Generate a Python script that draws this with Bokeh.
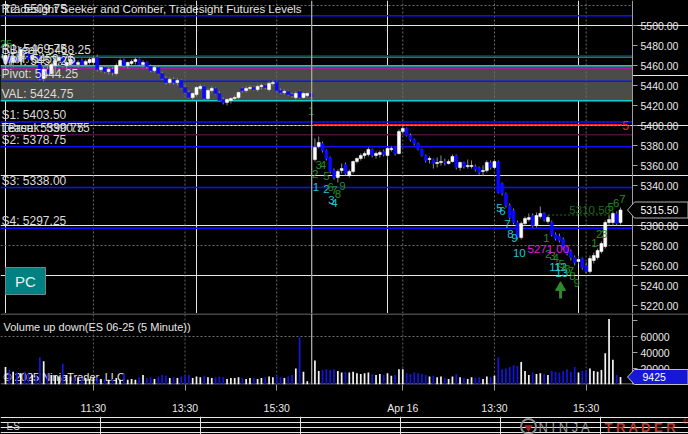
from bokeh.plotting import figure
from bokeh.models import Range1d, FixedTicker, NumeralTickFormatter, Span, LinearAxis
from bokeh.layouts import column
from bokeh.embed import file_html
from bokeh.resources import INLINE
from bokeh.core.properties import value

FONT = "Liberation Sans"

# ---------------- data: 5-minute ES 06-25 bars (Apr 15 + Apr 16) ----------------
opens = [
    5462, 5470, 5463, 5468, 5464, 5477, 5471, 5466, 5470, 5469,
    5447, 5456, 5452, 5460, 5465, 5470, 5460, 5462, 5466, 5461,
    5465, 5461, 5463, 5463, 5468, 5456, 5458, 5454, 5456, 5452,
    5460, 5465, 5460, 5462, 5464, 5466, 5461, 5463, 5459, 5455,
    5458, 5452, 5447, 5443, 5446, 5443, 5445, 5438, 5433, 5428,
    5431, 5437, 5439, 5427, 5435, 5437, 5432, 5426, 5423, 5425,
    5427, 5428, 5437, 5435, 5437, 5438, 5436, 5439, 5440, 5436,
    5442, 5443, 5435, 5433, 5434, 5431, 5428, 5434, 5428, 5430,
    5432,
    5366, 5379, 5382, 5375, 5368, 5355, 5348, 5355, 5361, 5350,
    5354, 5364, 5367, 5370, 5371, 5376, 5370, 5371, 5374, 5370,
    5376, 5377, 5372, 5394, 5397, 5390, 5386, 5382, 5376, 5370,
    5366, 5366, 5362, 5363, 5364, 5362, 5364, 5370, 5358, 5363,
    5359, 5359, 5359, 5358, 5354, 5355, 5363, 5358, 5364, 5342,
    5332, 5320, 5315, 5303, 5288, 5302, 5306, 5310, 5300, 5309,
    5312, 5304, 5303, 5291, 5289, 5286, 5278, 5274, 5268, 5264,
    5267, 5260, 5254, 5265, 5268, 5274, 5279, 5303, 5303, 5312,
    5303,
]
highs = [
    5478, 5474, 5471, 5475, 5478, 5482, 5474, 5472, 5473, 5471,
    5459, 5460, 5463, 5467, 5470, 5472, 5465, 5468, 5468, 5465,
    5467, 5466, 5468, 5470, 5471, 5460, 5460, 5458, 5458, 5462,
    5467, 5467, 5464, 5466, 5468, 5467, 5465, 5464, 5461, 5460,
    5459, 5454, 5449, 5448, 5448, 5447, 5446, 5440, 5435, 5433,
    5439, 5441, 5440, 5437, 5439, 5438, 5434, 5428, 5427, 5428,
    5430, 5434, 5438, 5439, 5440, 5439, 5441, 5442, 5441, 5444,
    5445, 5444, 5437, 5436, 5435, 5433, 5434, 5435, 5433, 5433,
    5433,
    5387, 5389, 5384, 5376, 5369, 5357, 5356, 5362, 5363, 5356,
    5365, 5368, 5372, 5374, 5378, 5377, 5374, 5375, 5376, 5378,
    5379, 5378, 5396, 5401, 5398, 5392, 5387, 5383, 5377, 5371,
    5369, 5367, 5368, 5370, 5367, 5366, 5371, 5371, 5364, 5364,
    5366, 5365, 5361, 5359, 5360, 5365, 5365, 5366, 5365, 5343,
    5333, 5322, 5317, 5305, 5304, 5309, 5312, 5312, 5313, 5319,
    5313, 5310, 5305, 5293, 5292, 5288, 5280, 5276, 5270, 5270,
    5268, 5263, 5270, 5273, 5277, 5284, 5305, 5310, 5314, 5314,
    5318,
]
lows = [
    5450, 5460, 5458, 5462, 5461, 5470, 5463, 5462, 5463, 5445,
    5444, 5450, 5450, 5452, 5461, 5458, 5456, 5460, 5459, 5458,
    5460, 5459, 5461, 5461, 5454, 5453, 5452, 5451, 5450, 5450,
    5459, 5458, 5457, 5460, 5461, 5460, 5458, 5457, 5453, 5453,
    5451, 5446, 5441, 5441, 5441, 5440, 5437, 5432, 5427, 5426,
    5429, 5435, 5425, 5425, 5433, 5431, 5424, 5421, 5420, 5422,
    5424, 5426, 5433, 5433, 5435, 5435, 5434, 5436, 5436, 5434,
    5440, 5434, 5432, 5431, 5430, 5428, 5426, 5427, 5427, 5428,
    5427,
    5364, 5377, 5373, 5365, 5352, 5346, 5343, 5352, 5350, 5348,
    5352, 5362, 5365, 5367, 5369, 5368, 5367, 5368, 5369, 5366,
    5374, 5370, 5371, 5392, 5389, 5384, 5380, 5375, 5369, 5363,
    5362, 5357, 5358, 5360, 5360, 5361, 5363, 5356, 5355, 5357,
    5357, 5357, 5354, 5351, 5350, 5353, 5356, 5357, 5332, 5330,
    5318, 5306, 5301, 5286, 5286, 5300, 5304, 5298, 5298, 5307,
    5304, 5302, 5289, 5285, 5283, 5276, 5270, 5265, 5260, 5262,
    5256, 5252, 5252, 5262, 5266, 5272, 5277, 5300, 5300, 5300,
    5301,
]
closes = [
    5470, 5463, 5468, 5464, 5476, 5472, 5466, 5470, 5468, 5447,
    5456, 5452, 5461, 5465, 5468, 5460, 5463, 5466, 5461, 5463,
    5461, 5464, 5466, 5467, 5456, 5458, 5454, 5456, 5453, 5460,
    5465, 5460, 5463, 5464, 5466, 5461, 5463, 5459, 5455, 5458,
    5452, 5447, 5443, 5446, 5443, 5445, 5438, 5433, 5428, 5432,
    5438, 5439, 5427, 5435, 5437, 5432, 5425, 5423, 5426, 5427,
    5428, 5433, 5435, 5437, 5438, 5436, 5439, 5440, 5438, 5442,
    5443, 5435, 5433, 5434, 5431, 5430, 5432, 5428, 5432, 5432,
    5429,
    5378, 5383, 5375, 5367, 5354, 5348, 5354, 5357, 5352, 5354,
    5364, 5367, 5370, 5372, 5376, 5370, 5372, 5373, 5371, 5377,
    5377, 5372, 5394, 5397, 5390, 5386, 5382, 5376, 5370, 5365,
    5367, 5362, 5363, 5364, 5363, 5364, 5369, 5358, 5363, 5359,
    5360, 5360, 5356, 5353, 5355, 5363, 5358, 5364, 5333, 5332,
    5320, 5308, 5303, 5288, 5302, 5307, 5308, 5300, 5310, 5312,
    5306, 5308, 5291, 5287, 5285, 5278, 5272, 5268, 5263, 5266,
    5258, 5254, 5267, 5270, 5275, 5282, 5303, 5306, 5312, 5302,
    5315.5,
]
volumes = [
    22000, 18000, 16000, 15000, 14000, 16000, 13000, 12000, 12000, 34000,
    29000, 14000, 12000, 11000, 10000, 26000, 12000, 10000, 9000, 9000,
    8000, 8000, 7000, 8000, 9000, 7000, 7000, 6000, 7000, 8000,
    6000, 13000, 6000, 7000, 6000, 9000, 12000, 8000, 9000, 7000,
    10000, 12000, 11000, 8000, 9000, 8000, 10000, 11000, 12000, 8000,
    10000, 9000, 11000, 9000, 8000, 9000, 10000, 9000, 7000, 8000,
    8000, 9000, 8000, 7000, 8000, 8000, 7000, 8000, 9000, 10000,
    9000, 11000, 9000, 8000, 10000, 12000, 20000, 59000, 16000, 4000,
    3000,
    30000, 17000, 18000, 19000, 18000, 19000, 17000, 15000, 16000, 15000,
    16000, 14000, 13000, 14000, 15000, 13000, 12000, 13000, 12000, 14000,
    11000, 12000, 19000, 19000, 14000, 13000, 15000, 14000, 13000, 12000,
    10000, 11000, 9000, 10000, 8000, 7000, 10000, 13000, 9000, 8000,
    7000, 9000, 8000, 9000, 7000, 10000, 9000, 11000, 34000, 19000,
    20000, 22000, 24000, 23000, 28000, 17000, 12000, 15000, 13000, 14000,
    13000, 12000, 17000, 16000, 15000, 17000, 19000, 16000, 22000, 15000,
    17000, 18000, 20000, 17000, 16000, 18000, 39000, 82000, 31000, 12000,
    9425,
]
assert len(opens) == len(highs) == len(lows) == len(closes) == len(volumes)

# time axis: bar index of labelled bars
tick_bars = [23, 47, 71, 104, 128, 152]
tick_labels = ["11:30", "13:30", "15:30", "Apr 16", "13:30", "15:30"]
session_break = 80.15

# price / volume axes
price_ticks = [5220, 5240, 5260, 5280, 5300, 5320, 5340, 5360, 5380, 5400,
               5420, 5440, 5460, 5480, 5500]
price_grid = [5280, 5400, 5520]
vol_ticks = [0, 20000, 40000, 60000, 80000]
vol_grid = [60000]

# Tradesight futures levels
level_prices = [5509.75, 5469.75, 5468.25, 5459.75, 5457.25, 5444.25, 5424.75,
                5403.50, 5390.75, 5378.75, 5338.00, 5297.25]
level_colors = ["#1010ff", "#1010ff", "#1a8c1a", "#10c8c8", "#a0209a", "#1010ff", "#10d0d0",
                "#1010ff", "#4a0f44", "#1010ff", "#1010ff", "#1010ff"]
label_texts = ["R2: 5509.75", "R1: 5469.75", "SBreak: 5468.25", "VAH: 5459.75", "VPT: 5457.25",
               "Pivot: 5444.25", "VAL: 5424.75", "S1: 5403.50", "LBreak: 5390.75",
               "Tease: 5390.75", "S2: 5378.75", "S3: 5338.00", "S4: 5297.25"]
label_prices = [5509.75, 5469.75, 5468.25, 5459.75, 5457.25, 5444.25, 5424.75,
                5403.50, 5390.75, 5390.75, 5378.75, 5338.00, 5297.25]
VAH, VAL = 5459.75, 5424.75
red_level, red_from, red_to = 5400.75, 80.6, 161.4
tgt_level, tgt_from, tgt_to = 5310.50, 141.0, 158.5
stop_text, stop_pos = "5271.00", (142.1, 5277)

# Seeker (cyan) and Comber (green) counts: (label, bar, price)
seeker_txt = ["1", "2", "3", "4", "5", "6", "7", "8", "9", "10", "11", "12", "13"]
seeker_x = [81.3, 84.0, 85.3, 86.1, 129.3, 130.1, 131.4, 132.2, 133.2, 134.5, 143.9, 145.3, 145.6]
seeker_y = [5339, 5337, 5326, 5323, 5318, 5315, 5302, 5292, 5288, 5273, 5259, 5259, 5253]
comber_txt = ["25", "1", "2", "3", "4", "5", "6", "7", "8", "9",
              "1", "2", "3", "4", "5", "6", "7", "8", "9",
              "1", "2", "3", "5", "6", "7"]
comber_x = [0.15, 80.0, 81.1, 82.0, 83.1, 84.0, 85.1, 86.1, 87.0, 88.2,
            141.6, 142.1, 143.2, 144.0, 145.6, 147.1, 148.0, 148.4, 149.5,
            154.2, 155.4, 156.7, 158.4, 159.9, 161.5]
comber_y = [5482, 5415, 5352, 5361, 5361, 5350, 5339, 5336, 5332, 5340,
            5288, 5272, 5270, 5268, 5262, 5257, 5255, 5250, 5243,
            5283, 5292, 5292, 5319, 5323, 5327]
arrow_x, arrow_y = [145.3], [5238]
count5_pos = (162.3, 5400)

# ---------------- geometry helpers (pixel -> data) ----------------
X0, BW = 5.0, 3.82
P_TOP = 5525.0
V_BASE, V_PX = 384.0, 1250.0


def px2x(px):
    return (px - X0) / BW


def py2p(py):
    return P_TOP - py


def py2v(py):
    return (V_BASE - py) * V_PX


AX = px2x(632)          # position of the right price/volume axis
idx = list(range(len(opens)))
up = [c >= o for o, c in zip(opens, closes)]
body_col = ["#ffffff" if u else "#0a0aff" for u in up]
vol_col = ["#f2f2f2" if u else "#1414e0" for u in up]
body_top = [max(o, c) for o, c in zip(opens, closes)]
body_bot = [min(o, c) for o, c in zip(opens, closes)]

xr = Range1d(px2x(0), px2x(688))
yr = Range1d(py2p(313), py2p(0))

common = dict(output_backend="svg", toolbar_location=None, background_fill_color="black",
              border_fill_color="black", outline_line_color=None)


def style_axis(ax, tick_out, standoff):
    ax.axis_line_color = "#a0a0a0"
    ax.major_tick_line_color = "#a0a0a0"
    ax.major_tick_in = 0
    ax.major_tick_out = tick_out
    ax.minor_tick_line_color = None
    ax.major_label_standoff = standoff
    ax.major_label_text_font = FONT
    ax.major_label_text_font_size = "10.5px"
    ax.major_label_text_color = "#e8e8e8"


# ---------------- price panel ----------------
p = figure(frame_width=688, frame_height=313, x_range=xr, y_range=yr,
           x_axis_location=None, y_axis_location=None, min_border=0, **common)

p.quad(left=[xr.start], right=[AX], bottom=[VAL], top=[VAH], fill_color="#4b4b47", line_color=None)
p.segment(x0=tick_bars, x1=tick_bars, y0=[yr.start] * len(tick_bars), y1=[yr.end] * len(tick_bars),
          line_color="#6e6e6e", line_dash="2 2", line_width=1)
p.segment(x0=[xr.start] * len(price_grid), x1=[AX] * len(price_grid), y0=price_grid, y1=price_grid,
          line_color="#6e6e6e", line_dash="2 2", line_width=1)
p.segment(x0=[xr.start] * len(level_prices), x1=[AX] * len(level_prices),
          y0=level_prices, y1=level_prices, line_color=level_colors, line_width=1.6)
p.segment(x0=[red_from], x1=[red_to], y0=[red_level], y1=[red_level], line_color="#ff1a1a", line_width=1.6)
p.segment(x0=[tgt_from], x1=[tgt_to], y0=[tgt_level], y1=[tgt_level], line_color="#1f6f1f",
          line_width=1.2, line_dash="2 2")
p.add_layout(Span(location=session_break, dimension="height", line_color="#a8a8a8", line_width=1.3))

# candles
p.segment(x0=idx, x1=idx, y0=lows, y1=highs, line_color="#8c8c8c", line_width=1)
p.vbar(x=idx, width=0.8, top=body_top, bottom=body_bot, fill_color=body_col, line_color=body_col, line_width=0.5)

# level labels and title
p.text(x=[px2x(1)] * len(label_texts), y=label_prices, text=label_texts, text_font=value(FONT),
       text_font_size="12px", text_color="#dadada", text_align="left", text_baseline="bottom")
p.text(x=[px2x(3)], y=[py2p(2)], text=["Tradesight Seeker and Comber, Tradesight Futures Levels"],
       text_font=value(FONT), text_font_size="11.5px", text_color="#e4e4e4",
       text_align="left", text_baseline="top")

# counts
p.text(x=seeker_x, y=seeker_y, text=seeker_txt, text_font=value(FONT), text_font_size="11.5px",
       text_color="#1ec8d6", text_align="center", text_baseline="middle")
p.text(x=comber_x, y=comber_y, text=comber_txt, text_font=value(FONT), text_font_size="11.5px",
       text_color="#238c23", text_align="center", text_baseline="middle")
p.text(x=[(tgt_from + tgt_to) / 2 + 3.3], y=[tgt_level + 5.5], text=["5310.50"], text_font=value(FONT),
       text_font_size="11.5px", text_color="#1d6e1d", text_align="center", text_baseline="middle")
p.text(x=[stop_pos[0]], y=[stop_pos[1]], text=[stop_text], text_font=value(FONT), text_font_size="11.5px",
       text_color="#e01ee0", text_align="center", text_baseline="middle")
p.text(x=[count5_pos[0]], y=[count5_pos[1]], text=["5"], text_font=value(FONT), text_font_size="12px",
       text_color="#ff2020", text_align="center", text_baseline="middle")
p.segment(x0=arrow_x, x1=arrow_x, y0=[arrow_y[0] - 11], y1=arrow_y, line_color="#2e8b2e", line_width=3)
p.scatter(x=arrow_x, y=arrow_y, marker="triangle", size=10, fill_color="#2e8b2e", line_color="#2e8b2e")

# PC button
p.quad(left=[px2x(5)], right=[px2x(45)], top=[py2p(267)], bottom=[py2p(294)],
       fill_color="#008080", line_color="#6a8a8a", line_width=1)
p.text(x=[px2x(25)], y=[py2p(280.5)], text=["PC"], text_font=value(FONT), text_font_size="15px",
       text_color="#f0f0f0", text_align="center", text_baseline="middle")

# right price axis, fixed at the panel's right edge
ya = LinearAxis(fixed_location=AX, ticker=FixedTicker(ticks=price_ticks, minor_ticks=[]),
                formatter=NumeralTickFormatter(format="0.00"))
style_axis(ya, 5, 3)
p.add_layout(ya, "right")

# last price marker (drawn over the axis labels)
last = closes[-1]
p.patch(x=[px2x(627), px2x(634), px2x(687.5), px2x(687.5), px2x(634)],
        y=[last, last + 8, last + 8, last - 8, last - 8],
        fill_color="#000000", line_color="#b0b0b0", line_width=1, level="overlay")
p.text(x=[px2x(640)], y=[last], text=["%.2f" % last], text_font=value(FONT), text_font_size="10.5px",
       text_color="#ffffff", text_baseline="middle", text_align="left", level="overlay")

# ---------------- volume panel ----------------
v = figure(frame_width=688, frame_height=71, x_range=xr, y_range=Range1d(0, py2v(313)),
           x_axis_location="below", y_axis_location=None,
           min_border_left=0, min_border_right=0, min_border_top=0, min_border_bottom=30, **common)
v.grid.visible = False
v.segment(x0=[xr.start], x1=[xr.end], y0=[py2v(313.5)], y1=[py2v(313.5)], line_color="#8a8a8a", line_width=1)
v.segment(x0=[xr.start], x1=[AX], y0=[py2v(383.5)], y1=[py2v(383.5)], line_color="#a0a0a0", line_width=1)
v.segment(x0=tick_bars, x1=tick_bars, y0=[0] * len(tick_bars), y1=[py2v(314)] * len(tick_bars),
          line_color="#5e5e5e", line_dash="2 2", line_width=1)
v.segment(x0=[xr.start] * len(vol_grid), x1=[AX] * len(vol_grid), y0=vol_grid, y1=vol_grid,
          line_color="#6e6e6e", line_dash="2 2", line_width=1)
v.add_layout(Span(location=session_break, dimension="height", line_color="#a8a8a8", line_width=1.3))
v.text(x=[px2x(3)], y=[py2v(376.5)], text=["\u00a9 2025 NinjaTrader, LLC"], text_font=value(FONT),
       text_font_size="11px", text_color="#e6e6e6", text_align="left", text_baseline="middle")
v.vbar(x=idx, width=0.45, top=volumes, bottom=0, fill_color=vol_col, line_color=None)
v.text(x=[px2x(3)], y=[py2v(326)], text=["Volume up down(ES 06-25 (5 Minute))"], text_font=value(FONT),
       text_font_size="11px", text_color="#e6e6e6", text_align="left", text_baseline="middle")

vy = LinearAxis(fixed_location=AX, ticker=FixedTicker(ticks=vol_ticks, minor_ticks=[]),
                formatter=NumeralTickFormatter(format="0"))
vy.major_label_overrides = {80000: ""}
style_axis(vy, 5, 3)
v.add_layout(vy, "right")

vx = v.xaxis[0]
vx.ticker = FixedTicker(ticks=tick_bars, minor_ticks=[])
vx.major_label_overrides = {b: t for b, t in zip(tick_bars, tick_labels)}
style_axis(vx, 6, 11)
vx.axis_line_color = None

lv = volumes[-1]
v.patch(x=[px2x(627), px2x(634), px2x(687.5), px2x(687.5), px2x(634)],
        y=[py2v(376.5), py2v(369), py2v(369), py2v(384), py2v(384)],
        fill_color="#1717d8", line_color="#c0c0c0", line_width=1, level="overlay")
v.text(x=[px2x(642)], y=[py2v(376.5)], text=[str(lv)], text_font=value(FONT), text_font_size="10.5px",
       text_color="#ffffff", text_baseline="middle", text_align="left", level="overlay")

# ---------------- footer ----------------
f = figure(width=688, height=20, x_range=Range1d(0, 688), y_range=Range1d(434, 414),
           x_axis_location=None, y_axis_location=None, min_border=0, **common)
f.text(x=[6], y=[424], text=["ES"], text_font=value(FONT), text_font_size="10px",
       text_color="#cfcfcf", text_align="left", text_baseline="middle")
f.scatter(x=[528], y=[424], marker="circle", size=15, fill_color=None, line_color="#8a8a8a", line_width=2)
f.scatter(x=[528], y=[425], marker="inverted_triangle", size=8, fill_color="#b22222", line_color=None)
f.text(x=[538], y=[424.5], text=["N I N J A"], text_font=value(FONT), text_font_size="13px",
       text_color="#9a9a9a", text_align="left", text_baseline="middle")
f.text(x=[604], y=[424.5], text=["T R A D E R"], text_font=value(FONT), text_font_size="13px",
       text_color="#c0392b", text_align="left", text_baseline="middle", text_font_style="bold")
f.text(x=[682], y=[419], text=["\u00ae"], text_font=value(FONT), text_font_size="7px",
       text_color="#c0392b", text_align="left", text_baseline="middle")

layout = column(p, v, f, spacing=0)
html = file_html(layout, INLINE)
html = html.replace("<head>", "<head><style>html,body{margin:0;padding:0;background:#000;overflow:hidden}</style>", 1)
open("out.html", "w").write(html)
